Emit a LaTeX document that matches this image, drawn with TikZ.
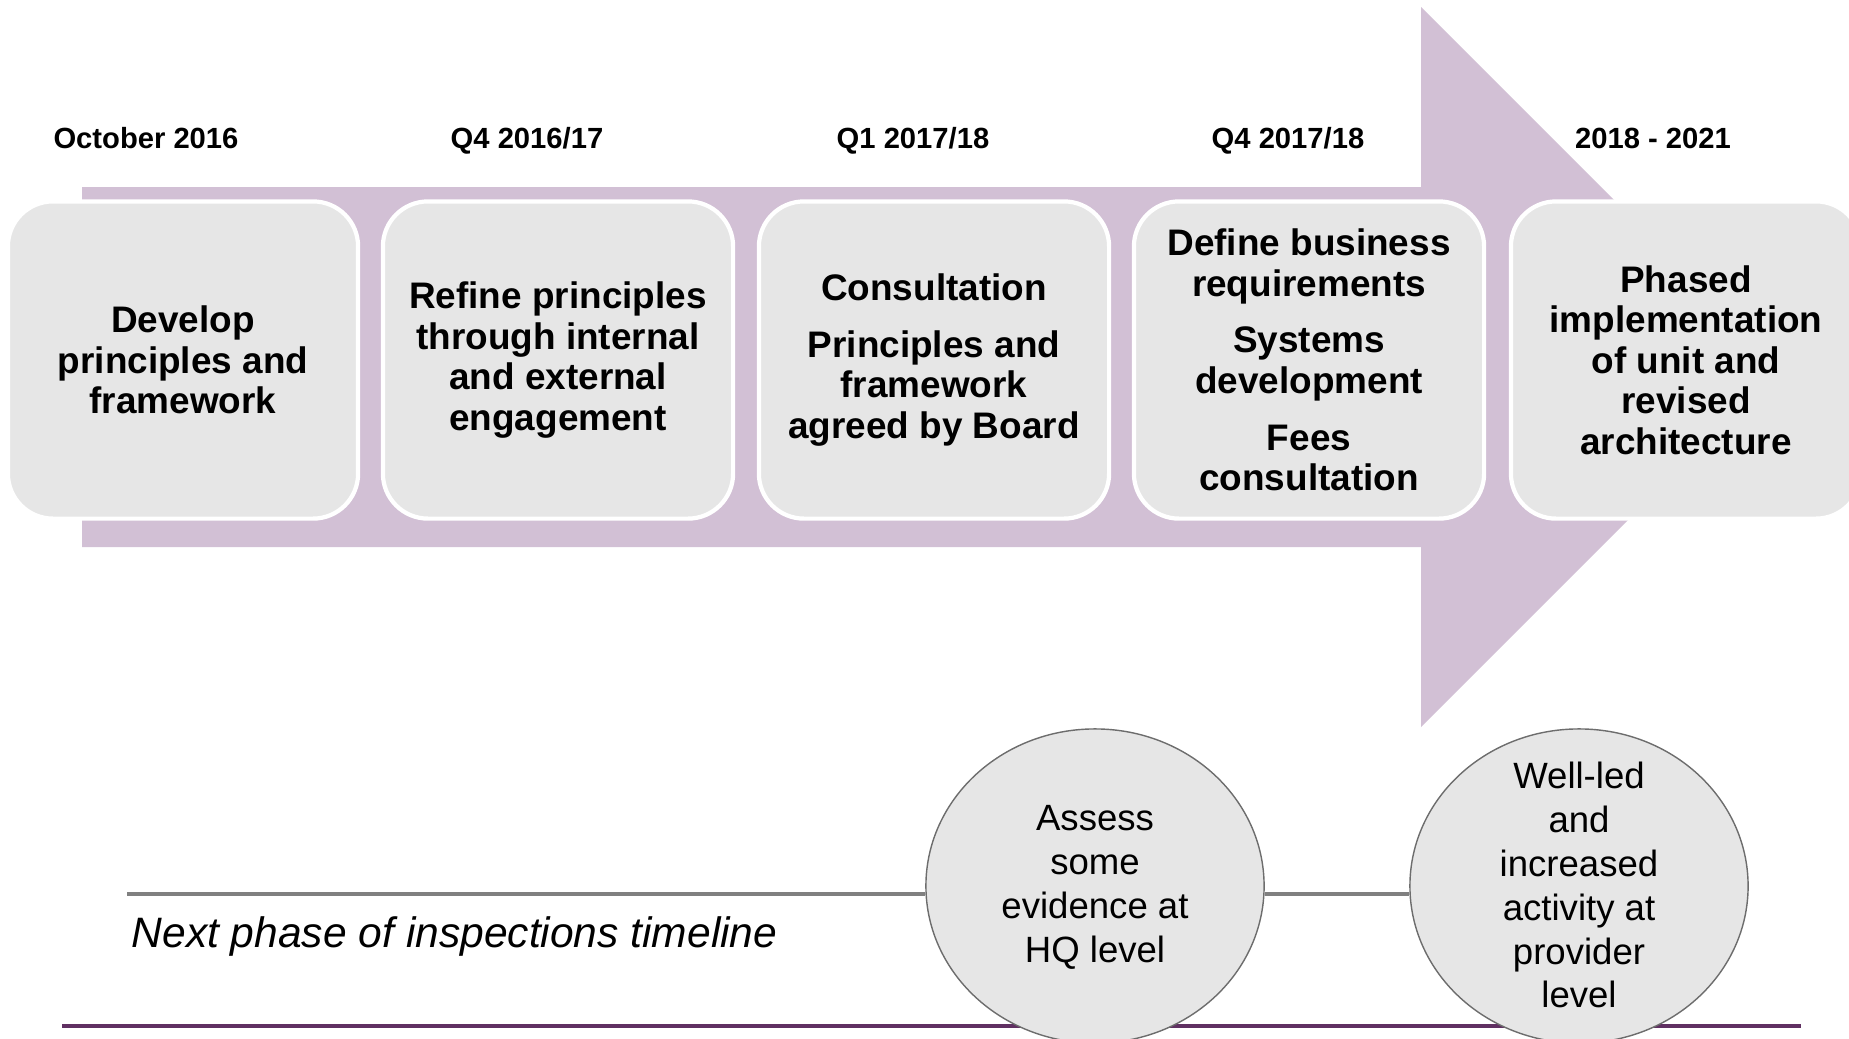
\documentclass[tikz,border=0pt]{standalone}
\usepackage{fontspec}
\setmainfont{Liberation Sans}
\usepackage{tikz}
\usetikzlibrary{shapes.geometric}

\definecolor{lilac}{RGB}{210,192,213}
\definecolor{boxgrey}{RGB}{230,230,230}
\definecolor{linegrey}{RGB}{128,128,128}
\definecolor{plum}{RGB}{96,48,98}

\begin{document}
\begin{tikzpicture}[x=0.01cm,y=-0.01cm,
    stage/.style={draw=white,line width=1.2pt,fill=boxgrey,rounded corners=0.45cm,
        minimum width=3.50cm,minimum height=3.17cm,align=center,
        font=\fontsize{10.5}{11.5}\selectfont\bfseries},
    date/.style={anchor=base,font=\fontsize{8.3}{10}\selectfont\bfseries},
    oval/.style={ellipse,draw=linegrey!85!black,line width=0.4pt,fill=boxgrey,
        minimum width=3.38cm,minimum height=3.14cm,inner sep=0pt},
    ovaltext/.style={align=center,font=\fontsize{10.4}{12.5}\selectfont},
    timeline/.style={linegrey,line width=1.4pt}]
    \useasboundingbox (0,0) rectangle (1849,1038);
    \clip (0,0) rectangle (1849,1038);

    % big arrow behind the stages
    \fill[lilac] (82,187) -- (1421,187) -- (1421,7) -- (1781,367)
        -- (1421,727) -- (1421,547) -- (82,547) -- cycle;

    % dates
    \node[date] (date1) at (146,148) {October 2016};
    \node[date] (date2) at (527,148) {Q4 2016/17};
    \node[date] (date3) at (913,148) {Q1 2017/18};
    \node[date] (date4) at (1288,148) {Q4 2017/18};
    \node[date] (date5) at (1653,148) {2018 - 2021};

    % stages
    \node[stage] (box1) at (183,360) {Develop\\principles and\\framework};
    \node[stage] (box2) at (558,360) {Refine principles\\through internal\\and external\\engagement};
    \node[stage] (box3) at (934,360) {Consultation\\[4.6pt]Principles and\\framework\\agreed by Board};
    \node[stage] (box4) at (1309,360) {Define business\\requirements\\[4.6pt]Systems\\development\\[4.6pt]Fees\\consultation};
    \node[stage] (box5) at (1686,360) {Phased\\implementation\\of unit and\\revised\\architecture};

    % inspections timeline
    \draw[plum,line width=0.9pt] (62,1026) -- (1801,1026);
    \coordinate (tl) at (127,894);
    \node[oval] (evA) at (1095,886) {};
    \node[oval] (evB) at (1579,886) {};
    \draw[timeline] (tl) -- (evA.west |- tl);
    \draw[timeline] (evA.east |- tl) -- (evB.west |- tl);
    \node[ovaltext] (txtA) at (1095,887) {Assess\\some\\evidence at\\HQ level};
    \node[ovaltext] (txtB) at (1579,885) {Well-led\\and\\increased\\activity at\\provider\\level};
    \node[anchor=base west,inner sep=0pt,font=\fontsize{12.1}{14}\selectfont\itshape] (phase) at (131,947)
        {Next phase of inspections timeline};
\end{tikzpicture}
\end{document}
